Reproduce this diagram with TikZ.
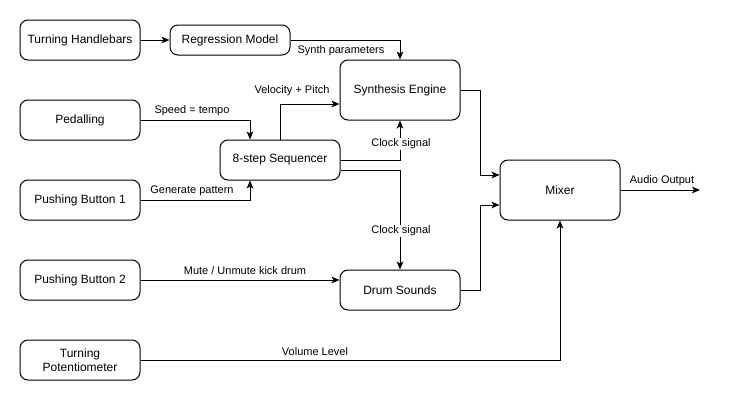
\documentclass[tikz,border=0pt]{standalone}
\usepackage{fontspec}
\setmainfont{Liberation Sans}
\usetikzlibrary{arrows.meta}
\begin{document}
\begin{tikzpicture}[x=0.75pt,y=-0.75pt,
  box/.style={draw,line width=0.75pt,rounded corners=6pt,align=center,font=\fontsize{9}{10.5}\selectfont,inner sep=0pt},
  conn/.style={line width=0.75pt,-{Stealth[length=6pt,width=5pt,inset=1.5pt]}},
  lbl/.style={font=\fontsize{8.25}{9.5}\selectfont,inner sep=1pt},
  lblw/.style={lbl,fill=white}]
\useasboundingbox (0,0) rectangle (729,401);
\fill[white] (0,0) rectangle (729,401);
% nodes
\node[box,minimum width=90pt,minimum height=30pt] (th) at (80,40) {Turning Handlebars};
\node[box,minimum width=90pt,minimum height=30pt] (ped) at (80,120) {Pedalling};
\node[box,minimum width=90pt,minimum height=30pt] (pb1) at (80,200) {Pushing Button 1};
\node[box,minimum width=90pt,minimum height=30pt] (pb2) at (80,280) {Pushing Button 2};
\node[box,minimum width=90pt,minimum height=30pt] (pot) at (80,360) {Turning\\Potentiometer};
\node[box,minimum width=90pt,minimum height=22.5pt] (reg) at (230,40) {Regression Model};
\node[box,minimum width=90pt,minimum height=45pt] (syn) at (400,90) {Synthesis Engine};
\node[box,minimum width=90pt,minimum height=30pt] (seq) at (280,160) {8-step Sequencer};
\node[box,minimum width=90pt,minimum height=30pt] (drum) at (400,290) {Drum Sounds};
\node[box,minimum width=90pt,minimum height=45pt] (mix) at (560,190) {Mixer};
\coordinate (out) at (700,190);
% connectors
\draw[conn] (th.east) -- (reg.west);
\draw[conn] (reg.east) -| (syn.north);
\draw[conn] (ped.east) -| ([xshift=-30*0.75pt]seq.north);
\draw[conn] (pb1.east) -| ([xshift=-30*0.75pt]seq.south);
\draw[conn] (seq.north) |- ([yshift=-14*0.75pt]syn.west);
\draw[conn] (seq.east) -| (syn.south);
\draw[conn] ([yshift=-10*0.75pt]seq.east) -| (drum.north);
\draw[conn] (pb2.east) -- (drum.west |- pb2.east);
\draw[conn] (syn.east) -- ++(20,0) |- ([yshift=15*0.75pt]mix.west);
\draw[conn] (drum.east) -- ++(20,0) |- ([yshift=-15*0.75pt]mix.west);
\draw[conn] (pot.east) -| (mix.south);
\draw[conn] (mix.east) -- (out);
% labels
\node[lbl] at (341,51) {Synth parameters};
\node[lbl] at (292,91) {Velocity + Pitch};
\node[lbl] at (192,111) {Speed = tempo};
\node[lbl] at (192,191) {Generate pattern};
\node[lblw] at (401,144) {Clock signal};
\node[lblw] at (401,231) {Clock signal};
\node[lbl] at (245,271) {Mute / Unmute kick drum};
\node[lbl] at (315,352) {Volume Level};
\node[lbl] at (662,181) {Audio Output};
\end{tikzpicture}
\end{document}
